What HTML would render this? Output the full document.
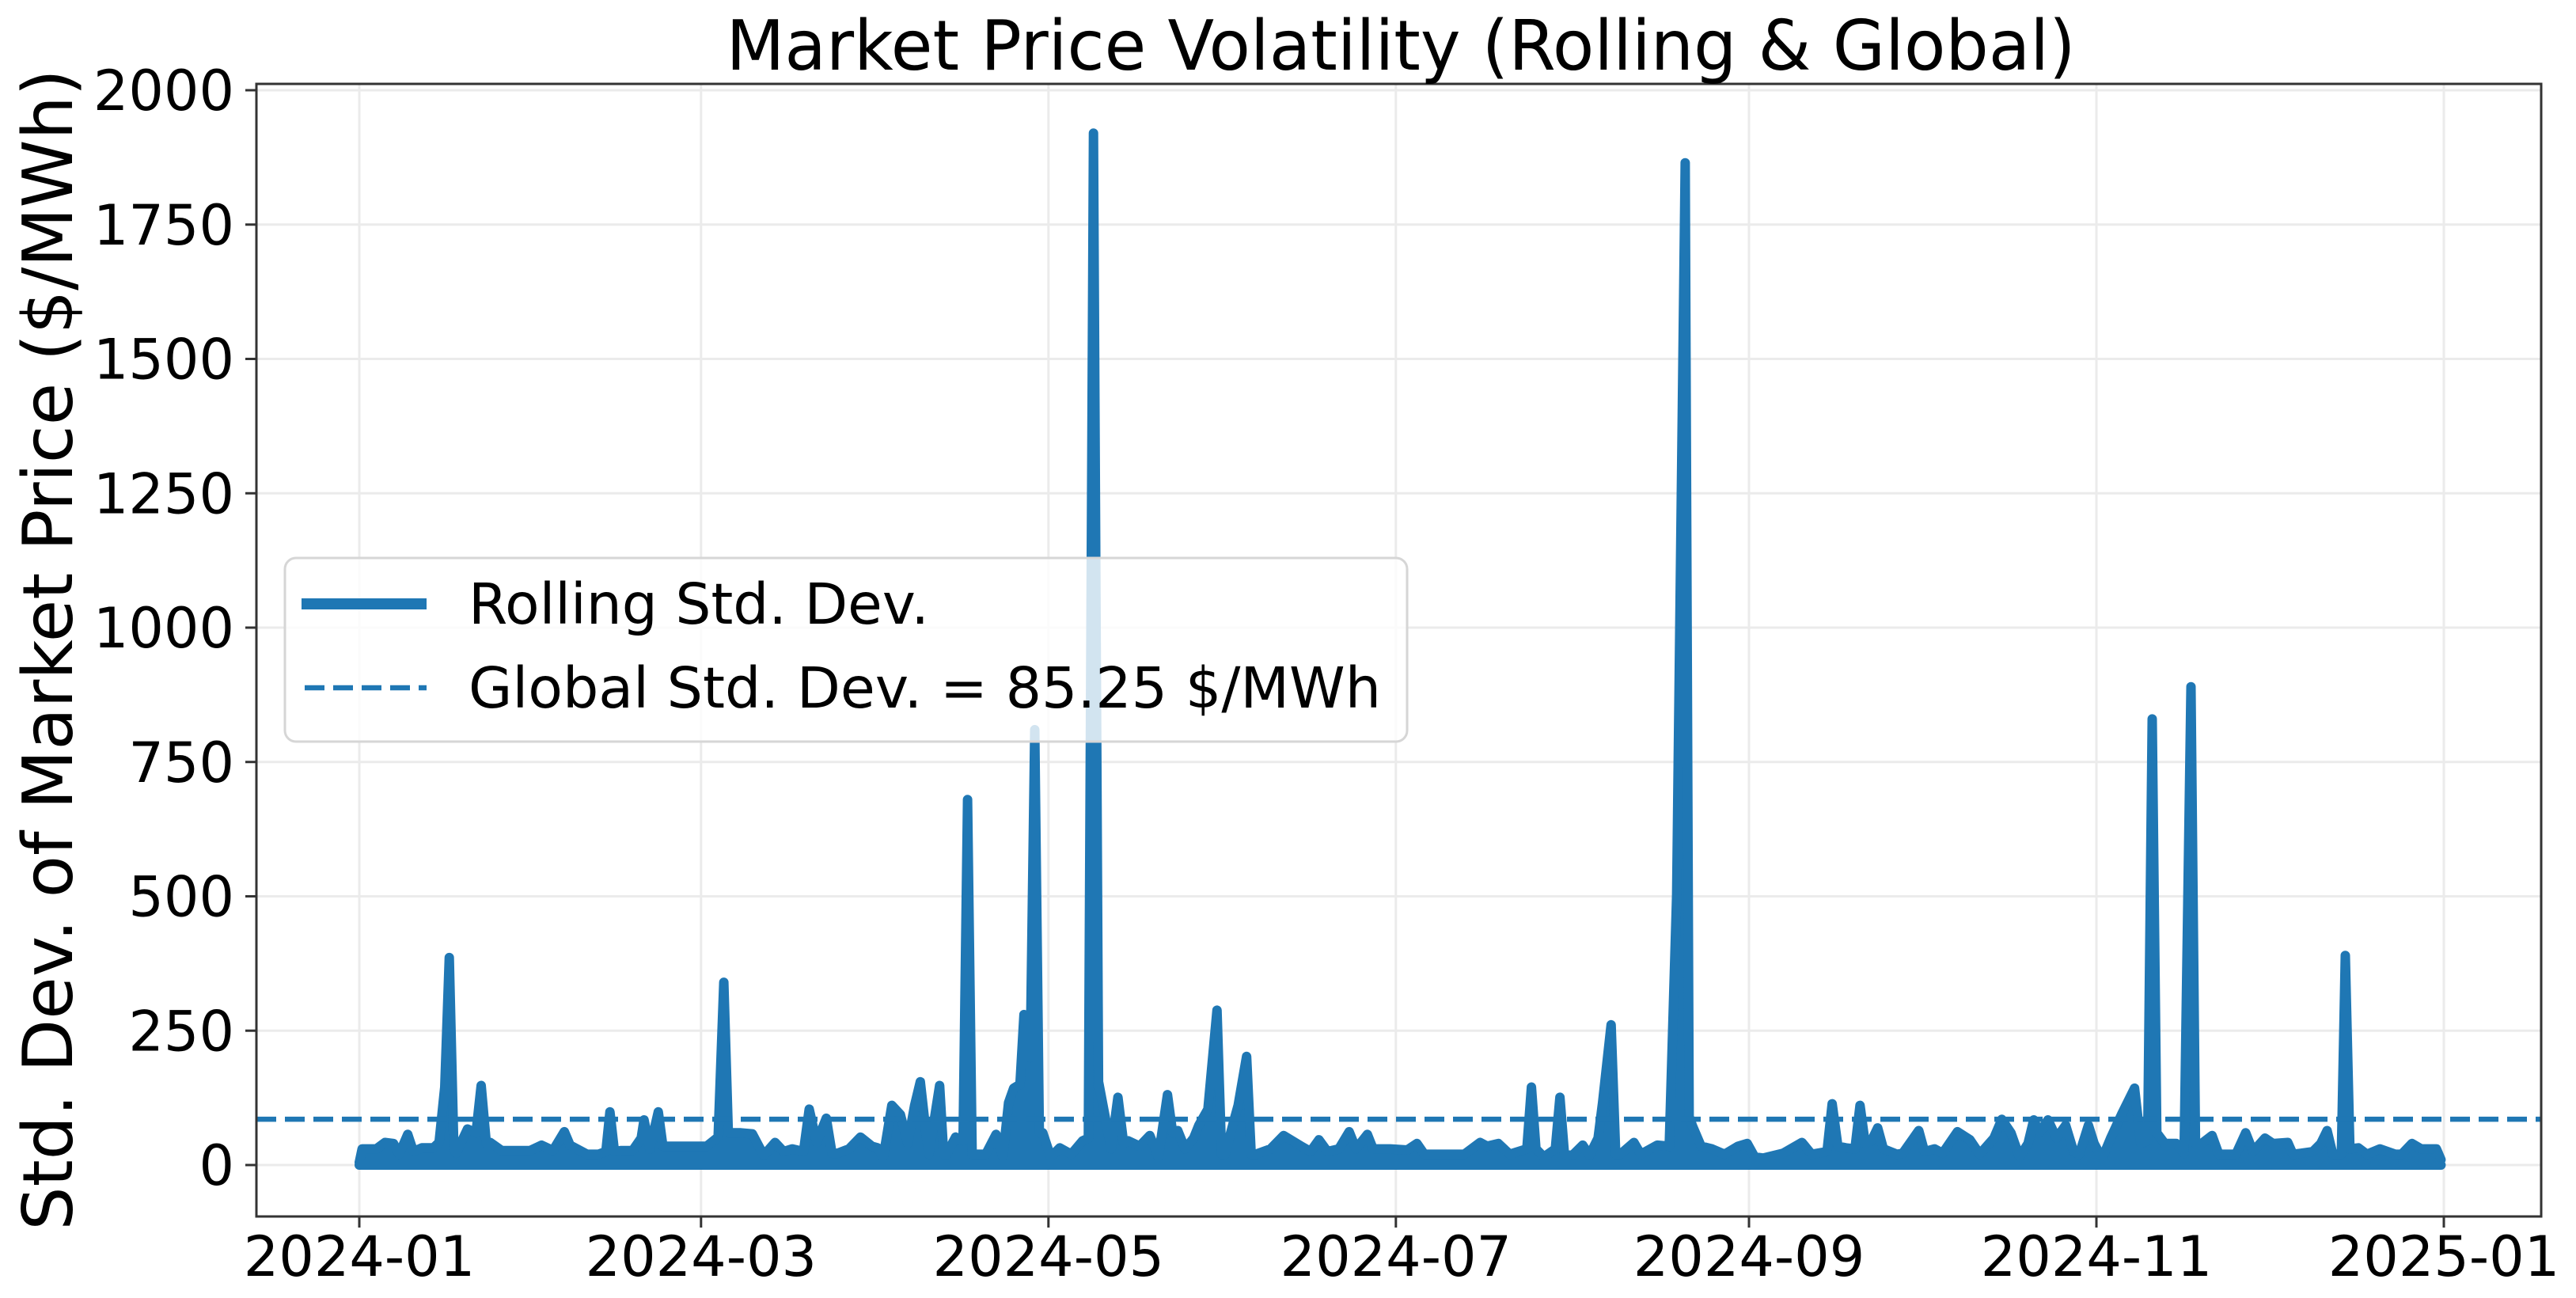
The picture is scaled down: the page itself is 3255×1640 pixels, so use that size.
<!DOCTYPE html>
<html><head><meta charset="utf-8"><style>
html,body{margin:0;padding:0;background:#fff;}
svg{display:block;font-family:"DejaVu Sans","Liberation Sans",sans-serif;}
</style></head><body>
<svg id="chart" width="3255" height="1640" viewBox="0 0 3255 1640" xmlns="http://www.w3.org/2000/svg">
<rect width="3255" height="1640" fill="#fff"/>
<g id="grid"></g>
<g id="series"></g>
<g id="axes"></g>
<text x="1770" y="88" font-size="87" text-anchor="middle" textLength="1705" lengthAdjust="spacingAndGlyphs">Market Price Volatility (Rolling &amp; Global)</text>
<text transform="translate(91,821) rotate(-90)" font-size="87" text-anchor="middle">Std. Dev. of Market Price ($/MWh)</text>
<g id="legend"></g>
</svg>
<script>
const days = [0,0.5,3,4.5,6,7,8.5,9.5,11,13,14,15,15.8,16.6,17,19,20.5,21.4,22.3,23,25,30,32,34,36,37,40,42,43.3,44,44.8,46,48,49.5,50,51,52.5,53.3,56,61,63,64,64.8,67,69,71,73,74.5,76,78,79,80.3,82,83,84,86,88,90,91,92,93.5,95,96.3,97.5,98.5,99.5,100,101.9,102.6,103,104.7,106,106.8,107.6,110,111.8,113,114,114.9,116,116.7,117.8,118.6,119.4,120,121.4,123,125,127,128,128.9,129.8,131,132,133.2,134.2,135,137,138.8,140.3,141.9,142.8,143.7,145,146.5,147.4,149,150.6,151.4,152,153.5,154.3,155.8,156.6,157.4,160,162.3,165.4,167,168.5,170,172,173.8,175,177,178,181,184,185.7,187,194,196.8,198,200,202,205,205.8,206.6,208,210,210.8,211.6,213,214.8,216,217.5,218.3,219.8,220.6,221.4,223.8,225,227.9,230,231.3,232.8,233.5,234.1,235.6,237.5,239.7,242.1,243.7,245,246.5,250,253.3,255,257.7,258.6,259.6,261,262.6,263.5,264.4,265.5,266.6,267.6,270,271,273.8,274.8,276.6,278,279.5,280.6,282.8,284.5,287,288.4,290,291.5,293,294,295,296.5,298,299.6,301,302,303.6,304.6,306,307.5,309.5,311.7,312.8,314,314.8,315.6,317,319,320.4,321.6,322.4,323.5,325.3,326.5,328,329.5,331.2,332.5,334.6,336,338.6,339.5,341,343,344.4,345.5,346.5,348,348.7,349.5,351,352.5,354.8,357.5,358.6,360.4,362,364.7,365.5];
const values = [5,30,30,42,40,20,57,25,32,32,42,145,386,30,22,67,60,148,40,42,27,27,37,27,62,37,20,20,25,99,25,27,27,50,84,30,99,35,35,35,52,340,60,60,58,18,42,25,30,25,104,42,87,22,22,30,52,35,32,15,111,94,40,111,155,60,20,148,20,18,52,45,680,20,20,57,15,116,143,150,280,200,810,60,60,15,32,20,45,50,1920,155,87,30,126,40,45,35,55,15,131,60,64,30,50,74,104,288,20,20,80,111,202,20,20,30,55,35,25,47,25,30,62,30,57,30,30,28,40,20,20,42,35,40,20,30,145,30,15,30,126,20,18,37,18,50,116,261,20,20,42,20,37,35,502,1865,90,72,35,30,20,35,40,15,13,22,42,20,25,114,35,32,30,111,40,45,69,30,20,22,64,25,30,22,45,62,47,20,50,85,60,15,40,84,60,84,50,74,25,20,74,40,12,50,96,143,40,45,830,60,40,40,22,890,40,40,55,20,20,20,60,25,50,40,42,20,22,25,40,64,20,20,390,30,32,20,30,20,20,40,30,30,10];
const globalStd = 85.25;
const yTicks = [0,250,500,750,1000,1250,1500,1750,2000];
const xTickLabels = ["2024-01","2024-03","2024-05","2024-07","2024-09","2024-11","2025-01"];
const xTickDays = [0,60,121,182,244,305,366];

const NS="http://www.w3.org/2000/svg";
const L=324,R=3211,T=106,B=1537;
const x0=454, pxPerDay=(3088-454)/366;
const y0=1472, pxPerUnit=(1472-114)/2000;
function X(d){return x0+d*pxPerDay;}
function Y(v){return y0-v*pxPerUnit;}
function mk(tag,attrs,parent){const e=document.createElementNS(NS,tag);for(const k in attrs)e.setAttribute(k,attrs[k]);parent.appendChild(e);return e;}

const grid=document.getElementById('grid');
yTicks.forEach(v=>{
  const g=mk('line',{x1:L,x2:R,y1:Y(v),y2:Y(v),stroke:'#ebebeb','stroke-width':3},grid);
  
  
});
xTickDays.forEach(d=>{
  const g=mk('line',{x1:X(d),x2:X(d),y1:T,y2:B,stroke:'#ebebeb','stroke-width':3},grid);
  
  
});

const series=document.getElementById('series');
let pts=days.map((d,i)=>X(d).toFixed(1)+','+Y(values[i]).toFixed(1));
let area='M'+X(days[0]).toFixed(1)+','+Y(0)+' L'+pts.join(' L')+' L'+X(days[days.length-1]).toFixed(1)+','+Y(0)+' Z';
const ar=mk('path',{d:area,fill:'#1f77b4'},series);


const ln=mk('polyline',{points:pts.join(' '),fill:'none',stroke:'#1f77b4','stroke-width':12,'stroke-linejoin':'round','stroke-linecap':'round'},series);


const bl=mk('line',{x1:X(days[0]),x2:X(days[days.length-1]),y1:Y(0),y2:Y(0),stroke:'#1f77b4','stroke-width':12,'stroke-linecap':'round'},series);


const gl=mk('line',{x1:L,x2:R,y1:Y(globalStd),y2:Y(globalStd),stroke:'#1f77b4','stroke-width':6.5,'stroke-dasharray':'25 11'},series);



const axes=document.getElementById('axes');
const fr=mk('rect',{x:L,y:T,width:R-L,height:B-T,fill:'none',stroke:'#333','stroke-width':3},axes);


yTicks.forEach(v=>{
  const t=mk('line',{x1:L-14,x2:L,y1:Y(v),y2:Y(v),stroke:'#333','stroke-width':3},axes);
  
  
  const tx=mk('text',{x:L-28,y:Y(v)+25,'font-size':70,'text-anchor':'end'},axes);
  tx.textContent=String(v);
  
  
});
xTickDays.forEach((d,i)=>{
  const t=mk('line',{x1:X(d),x2:X(d),y1:B,y2:B+14,stroke:'#333','stroke-width':3},axes);
  
  
  const tx=mk('text',{x:X(d),y:1612,'font-size':70,'text-anchor':'middle'},axes);
  tx.textContent=xTickLabels[i];
  
  
});

const lg=document.getElementById('legend');
const box=mk('rect',{x:360,y:705,width:1418,height:232,rx:14,fill:'#fff','fill-opacity':0.8,stroke:'#d6d6d6','stroke-width':3},lg);


const h1=mk('line',{x1:381,x2:539,y1:763,y2:763,stroke:'#1f77b4','stroke-width':14},lg);


const t1=mk('text',{x:592,y:788,'font-size':71},lg);
t1.textContent='Rolling Std. Dev.';


const h2=mk('line',{x1:385,x2:539,y1:869,y2:869,stroke:'#1f77b4','stroke-width':6.5,'stroke-dasharray':'25 11'},lg);


const t2=mk('text',{x:592,y:894,'font-size':71,textLength:1153,lengthAdjust:'spacingAndGlyphs'},lg);
t2.textContent='Global Std. Dev. = '+globalStd.toFixed(2)+' $/MWh';


</script>
</body></html>
